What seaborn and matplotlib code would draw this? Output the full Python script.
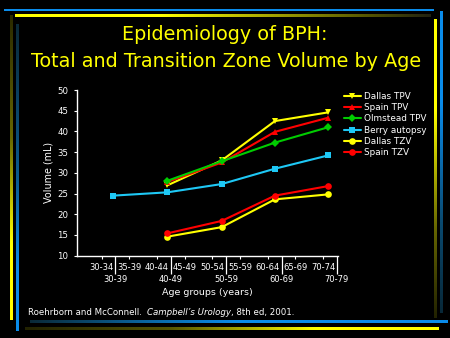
import numpy as np
import pandas as pd
import matplotlib
matplotlib.use("Agg")
import matplotlib.pyplot as plt
from matplotlib.lines import Line2D
from matplotlib.colors import to_rgb
import seaborn as sns

# ---------------- data ----------------
age_groups = ["30-34", "35-39", "40-44", "45-49", "50-54", "55-59", "60-64", "65-69", "70-74"]
decades = ["30-39", "40-49", "50-59", "60-69", "70-79"]
mean_age = [34.1, 43.9, 53.7, 63.3, 72.9]          # mean age of each decade cohort

dallas_tpv = [np.nan, 27.0, 33.0, 42.5, 44.6]
spain_tpv = [np.nan, 27.8, 32.5, 39.9, 43.3]
olmstead_tpv = [np.nan, 28.1, 32.8, 37.3, 41.0]
berry_autopsy = [24.5, 25.3, 27.3, 31.0, 34.2]
dallas_tzv = [np.nan, 14.6, 16.9, 23.6, 24.8]
spain_tzv = [np.nan, 15.4, 18.4, 24.5, 26.8]

series_names = ["Dallas TPV", "Spain TPV", "Olmstead TPV", "Berry autopsy", "Dallas TZV", "Spain TZV"]
series_values = [dallas_tpv, spain_tpv, olmstead_tpv, berry_autopsy, dallas_tzv, spain_tzv]
colors = {"Dallas TPV": "#FFFF00", "Spain TPV": "#FF0000", "Olmstead TPV": "#00CC00",
          "Berry autopsy": "#1EC8F5", "Dallas TZV": "#FFFF00", "Spain TZV": "#FF0000"}
markers = {"Dallas TPV": "v", "Spain TPV": "^", "Olmstead TPV": "D",
           "Berry autopsy": "s", "Dallas TZV": "o", "Spain TZV": "o"}
msizes = {"Dallas TPV": 5, "Spain TPV": 5, "Olmstead TPV": 3.8,
          "Berry autopsy": 4.3, "Dallas TZV": 4.8, "Spain TZV": 4.8}

# position on the categorical age-group axis (category "30-34" centred at age 32)
pos = [(a - 32.0) / 5.0 for a in mean_age]

rows = []
for name, vals in zip(series_names, series_values):
    for p, v in zip(pos, vals):
        if not np.isnan(v):
            rows.append({"pos": p, "volume": v, "series": name})
df = pd.DataFrame(rows)

# ---------------- figure ----------------
sns.set_style("ticks")
plt.rcParams["font.family"] = ["DejaVu Sans"]
W, H = 450, 338
fig = plt.figure(figsize=(4.5, 3.38), dpi=100, facecolor="black")

# decorative gradient bars (pixel coordinates)
deco = fig.add_axes([0, 0, 1, 1], zorder=0)
deco.set_facecolor("black")


def grad_bar(x0, x1, y0, y1, stops, vertical):
    n = 200
    t = np.linspace(0, 1, n)
    st = [s for s, _ in stops]
    cols = [to_rgb(c) for _, c in stops]
    rgb = np.array([[np.interp(v, st, [c[k] for c in cols]) for k in range(3)] for v in t])
    img = rgb[:, None, :] if vertical else rgb[None, :, :]
    deco.imshow(img, extent=[x0, x1, y1, y0], aspect="auto", interpolation="bilinear", zorder=1)


BLUE = "#0A8CEB"
YEL = "#FFFF00"
grad_bar(4, 434, 9.3, 11.3, [(0, BLUE), (1, BLUE)], False)
grad_bar(15, 431, 14, 17, [(0, YEL), (0.35, YEL), (0.85, "#555500"), (1, "#222210")], False)
grad_bar(9.5, 12.5, 15, 320, [(0, "#2A2A00"), (0.4, "#666600"), (0.75, YEL), (1, YEL)], True)
grad_bar(15.5, 18.5, 24, 331, [(0, "#0A2A38"), (0.5, "#0A5A90"), (0.8, BLUE), (1, BLUE)], True)
grad_bar(433.5, 436.5, 19, 318, [(0, YEL), (0.3, YEL), (0.7, "#666600"), (1, "#222200")], True)
grad_bar(439.5, 442.5, 11, 313, [(0, BLUE), (0.3, BLUE), (0.7, "#0A4A70"), (1, "#082838")], True)
grad_bar(30, 448, 320, 323, [(0, "#0A2A38"), (0.3, "#0A6AA8"), (0.5, BLUE), (1, BLUE)], False)
grad_bar(25, 439, 327.5, 330.5, [(0, "#222200"), (0.35, "#555500"), (0.7, YEL), (1, YEL)], False)
deco.set_xlim(0, W)
deco.set_ylim(H, 0)
deco.axis("off")

# main axes
x_left, x_right, y_top, y_bot = 76.7, 338.3, 90.0, 255.7
ax = fig.add_axes([x_left / W, 1 - y_bot / H, (x_right - x_left) / W, (y_bot - y_top) / H], zorder=2)
ax.set_facecolor("none")

for name in series_names:
    sub = df[df["series"] == name]
    sns.lineplot(data=sub, x="pos", y="volume", color=colors[name], marker=markers[name],
                 sort=False, estimator=None, linewidth=1.5, markersize=msizes[name],
                 markeredgewidth=0, legend=False, ax=ax)

ax.set_xlim(-0.9, 8.55)
ax.set_ylim(10, 50)
ax.set_yticks(np.arange(10, 51, 5))
ax.set_xticks(np.arange(len(age_groups)))
ax.set_xticklabels(age_groups)
ax.set_xticks([0.5, 2.5, 4.5, 6.5, 8.5], minor=True)
ax.set_xticklabels(decades, minor=True)

for s in ["top", "right"]:
    ax.spines[s].set_visible(False)
for s in ["left", "bottom"]:
    ax.spines[s].set_color("white")
    ax.spines[s].set_linewidth(1.0)

ax.tick_params(axis="y", colors="white", labelsize=6.2, length=2.5, width=0.8, pad=3.5)
ax.tick_params(axis="x", which="major", colors="white", labelsize=6.0, length=2.2, width=0.8, pad=3.3)
ax.tick_params(axis="x", which="minor", colors="white", labelsize=6.0, length=13, width=0.9, pad=1.0)

ax.set_xlabel("Age groups (years)", color="white", fontsize=6.8, labelpad=3)
ax.set_ylabel("Volume (mL)", color="white", fontsize=6.9, labelpad=3)

# legend
handles = [Line2D([], [], color=colors[n], marker=markers[n], markersize=msizes[n], markeredgewidth=0,
                  linewidth=1.5) for n in series_names]
leg = fig.legend(handles, series_names, loc="upper left", bbox_to_anchor=(344 / W, 1 - 92 / H),
                 frameon=False, fontsize=6.4, labelcolor="white", handlelength=1.9,
                 handletextpad=0.4, labelspacing=0.25, borderpad=0, borderaxespad=0)

# titles
fig.text(225 / W, 1 - 35 / H, "Epidemiology of BPH:", color=YEL, fontsize=13.8, ha="center", va="center")
fig.text(226.5 / W, 1 - 61.5 / H, "Total and Transition Zone Volume by Age", color=YEL,
         fontsize=13.8, ha="center", va="center")

# citation
t1 = fig.text(28 / W, 1 - 315 / H, "Roehrborn and McConnell.  ", color="white", fontsize=6.2,
              ha="left", va="baseline")
t2 = fig.text(0, 0, "", alpha=0)
t2 = plt.annotate("Campbell\u2019s Urology", xy=(1, 0), xycoords=t1, xytext=(0, 0),
                  textcoords="offset points", color="white", fontsize=6.2, style="italic",
                  ha="left", va="bottom")
t3 = plt.annotate(", 8th ed, 2001.", xy=(1, 0), xycoords=t2, xytext=(0, 0),
                  textcoords="offset points", color="white", fontsize=6.2, ha="left", va="bottom")

fig.savefig("out.png", dpi=100, facecolor="black")
